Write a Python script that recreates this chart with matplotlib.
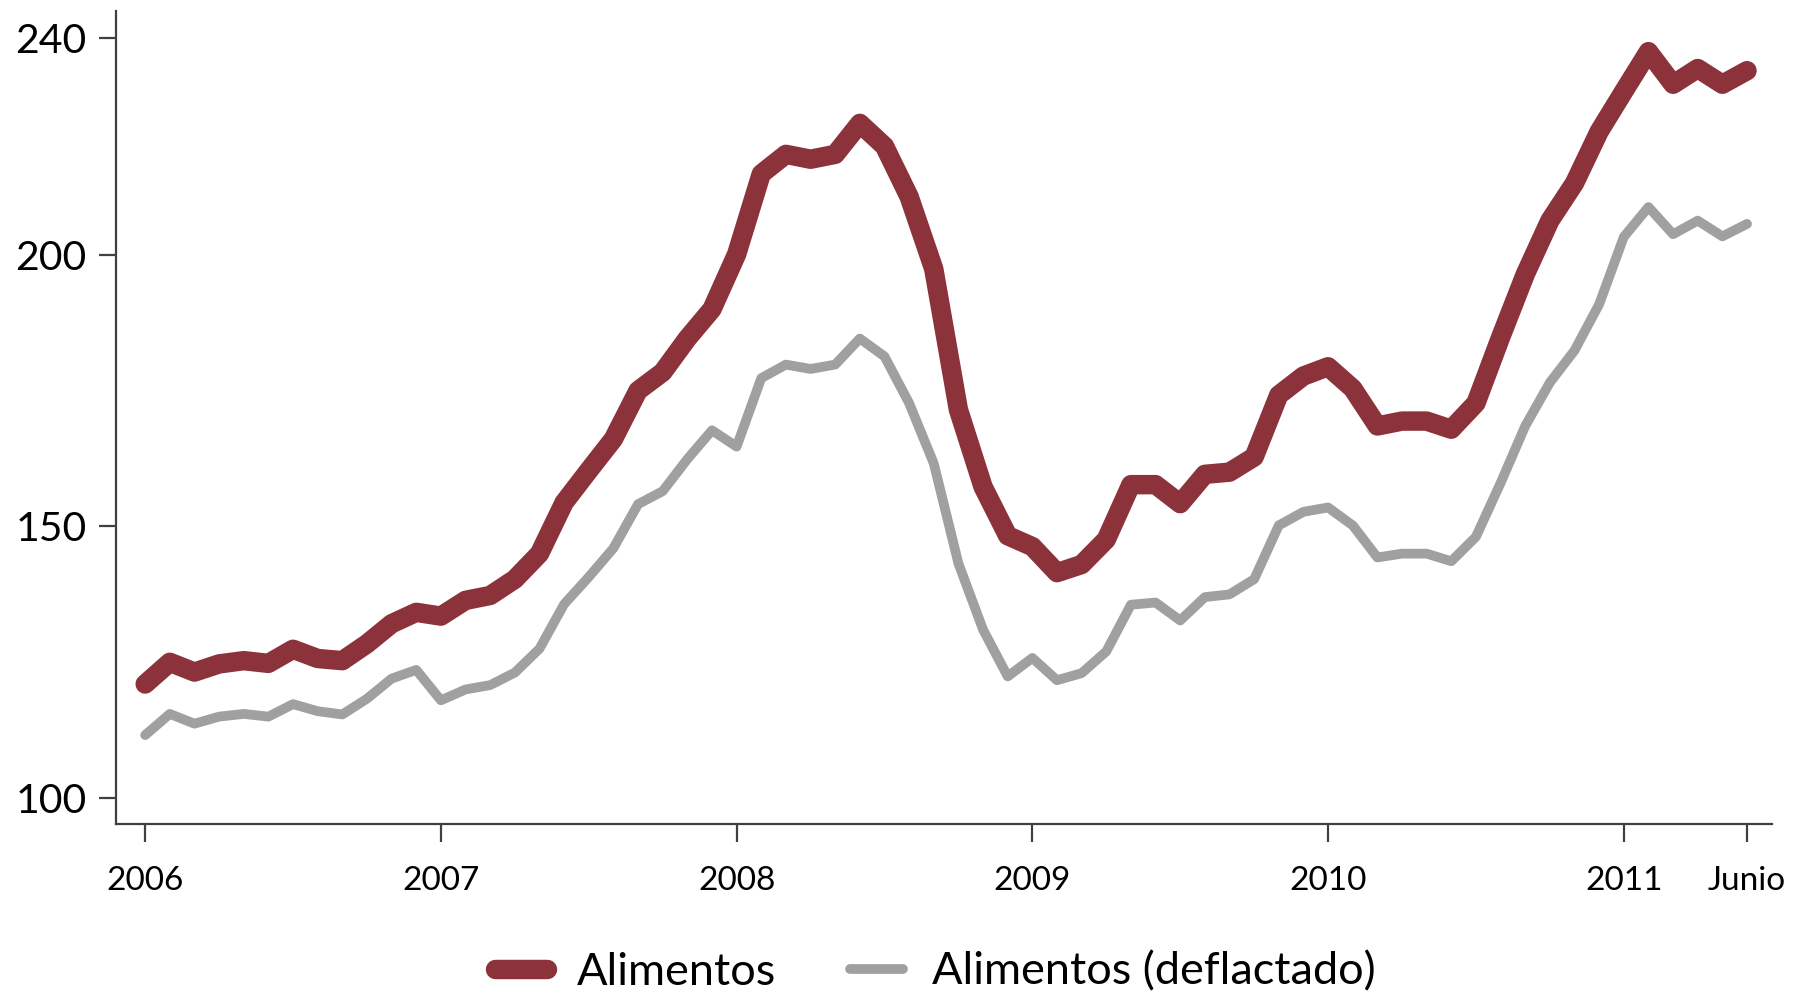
import matplotlib
matplotlib.use("Agg")
import matplotlib.pyplot as plt

months = list(range(66))  # Jan 2006 .. Jun 2011
alimentos = [121.0, 125.0, 123.2, 124.7, 125.3, 124.8, 127.4, 125.7, 125.3, 128.4,
             132.1, 134.2, 133.5, 136.4, 137.3, 140.3, 145.0, 154.4, 160.3, 166.1,
             175.0, 178.4, 184.6, 190.0, 200.1, 214.9, 218.5, 217.6, 218.5, 224.2,
             220.0, 210.7, 197.4, 171.5, 157.3, 148.3, 146.3, 141.5, 143.0, 147.6,
             157.7, 157.7, 154.2, 159.6, 160.0, 162.8, 174.2, 177.7, 179.4, 175.4,
             168.5, 169.4, 169.4, 167.9, 172.7, 184.8, 196.4, 206.3, 213.2, 222.7,
             230.1, 237.4, 231.4, 234.3, 231.4, 233.9]
deflactado = [111.6, 115.5, 113.7, 115.0, 115.5, 115.0, 117.3, 116.0, 115.4, 118.3,
              122.0, 123.6, 118.0, 120.0, 120.8, 123.1, 127.5, 135.7, 140.7, 146.0,
              154.1, 156.5, 162.4, 167.7, 164.7, 177.3, 179.8, 179.0, 179.8, 184.6,
              181.3, 172.7, 161.6, 143.2, 131.0, 122.4, 125.8, 121.7, 123.0, 127.0,
              135.6, 136.0, 132.7, 137.0, 137.5, 140.3, 150.2, 152.7, 153.5, 150.2,
              144.3, 145.0, 145.0, 143.6, 148.1, 158.0, 168.5, 176.5, 182.4, 190.9,
              203.3, 208.8, 203.8, 206.3, 203.4, 205.7]
xtick_pos = [0, 12, 24, 36, 48, 60, 65]
xtick_labels = ["2006", "2007", "2008", "2009", "2010", "2011", "Junio"]
ytick_vals = [100, 150, 200, 240]
series_names = ["Alimentos", "Alimentos (deflactado)"]

RED = "#8c323b"
GRAY = "#a0a0a0"
AX_COL = "#404040"

plt.rcParams["font.family"] = ["Lato", "DejaVu Sans"]

fig = plt.figure(figsize=(17.95, 9.93), dpi=100)
ax = fig.add_axes([0.0644, 0.170, 0.9226, 0.819])

ax.plot(months, alimentos, color=RED, lw=14, solid_capstyle="round",
        solid_joinstyle="round", label=series_names[0])
ax.plot(months, deflactado, color=GRAY, lw=7, solid_capstyle="round",
        solid_joinstyle="round", label=series_names[1])

ax.set_xlim(-1.2, 66.0)
ax.set_ylim(95.2, 244.9)

ax.spines["top"].set_visible(False)
ax.spines["right"].set_visible(False)
for s in ("left", "bottom"):
    ax.spines[s].set_color(AX_COL)
    ax.spines[s].set_linewidth(1.6)

ax.set_xticks(xtick_pos)
ax.set_xticklabels(xtick_labels)
ax.set_yticks(ytick_vals)
ax.set_yticklabels([str(v) for v in ytick_vals])
ax.tick_params(axis="y", direction="out", length=12, width=1.6, color=AX_COL,
               labelsize=29.5, pad=9, labelcolor="black")
ax.tick_params(axis="x", direction="out", length=13, width=1.6, color=AX_COL,
               labelsize=24, pad=17, labelcolor="black")

leg = fig.legend(loc="center", bbox_to_anchor=(0.521, 0.021), ncol=2,
                 frameon=False, fontsize=32.5, handlelength=1.17,
                 handletextpad=0.65, columnspacing=1.64)

fig.savefig("out.png", dpi=100, facecolor="white")
